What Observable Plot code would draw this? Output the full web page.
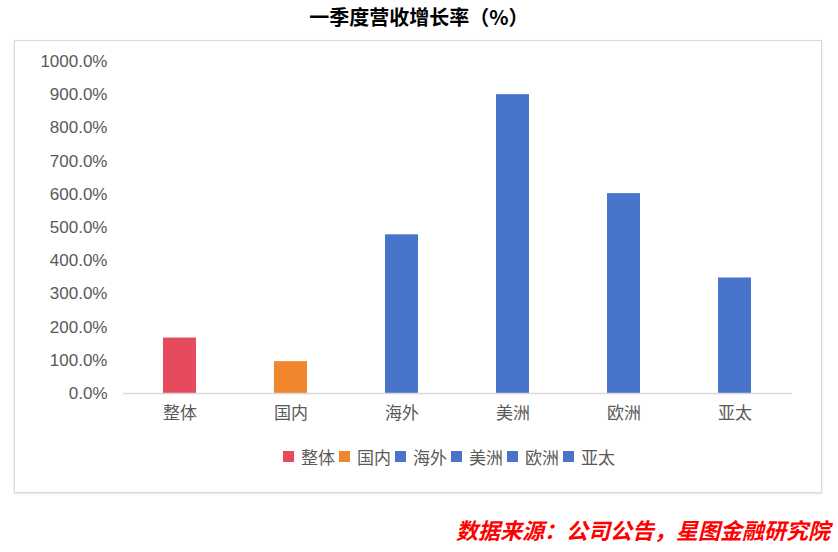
<!DOCTYPE html>
<html>
<head>
<meta charset="utf-8">
<script src="https://cdn.jsdelivr.net/npm/d3@7"></script>
<script src="https://cdn.jsdelivr.net/npm/@observablehq/plot@0.6"></script>
<style>
  body { margin: 0; background: #fff; font-family: "Noto Sans CJK SC", "Noto Sans", sans-serif; }
  #wrap { position: relative; width: 838px; height: 552px; }
  #title { position: absolute; top: 2px; left: 0; width: 838px; text-align: center; font-size: 20px; font-weight: bold; color: #000; }
  #box { position: absolute; left: 14px; top: 40px; width: 806px; height: 451px; border: 1px solid #d9d9d9; box-shadow: 0 1px 2px #e0e0e0; }
  #legend { position: absolute; left: 268px; top: 403px; display: flex; align-items: center; font-size: 17px; color: #595959; white-space: nowrap; }
  .sw { display: inline-block; width: 11px; height: 11px; margin-right: 7px; }
  .it { display: flex; align-items: center; margin-right: 4px; }
  #caption { position: absolute; right: 8px; top: 513px; font-size: 22px; font-weight: bold; font-style: italic; color: #f00; }
</style>
</head>
<body>
<div id="wrap">
  <div id="title">一季度营收增长率（%）</div>
  <div id="box"><div id="chart"></div><div id="legend"></div></div>
  <div id="caption">数据来源：公司公告，星图金融研究院</div>
</div>
<script>
const categories = ["整体", "国内", "海外", "美洲", "欧洲", "亚太"];
const growth = [167, 96, 478, 900, 602, 348];
const colors = ["#E64B5D", "#F0872F", "#4874CB", "#4874CB", "#4874CB", "#4874CB"];
const yTicks = [0, 100, 200, 300, 400, 500, 600, 700, 800, 900, 1000];

const data = categories.map((c, i) => ({cat: c, value: growth[i], color: colors[i]}));

const chart = Plot.plot({
  width: 806,
  height: 385,
  marginLeft: 108,
  marginRight: 29,
  marginTop: 20,
  marginBottom: 33,
  style: {fontFamily: '"Noto Sans CJK SC", "Noto Sans", sans-serif', color: "#595959", background: "transparent"},
  x: {domain: categories, paddingInner: 0.7, paddingOuter: 0.35, label: null},
  y: {domain: [0, 1000], label: null},
  marks: [
    Plot.barY(data, {x: "cat", y: "value", fill: "color"}),
    Plot.ruleY([0], {stroke: "#d9d9d9", strokeWidth: 1.5}),
    Plot.axisY({ticks: yTicks, tickSize: 0, tickPadding: 16, tickFormat: d => d.toFixed(1) + "%", fontSize: 17, fontFamily: '"Liberation Sans", Arial, sans-serif', fill: "#595959", label: null}),
    Plot.axisX({tickSize: 0, tickPadding: 13, fontSize: 17, fill: "#595959", label: null})
  ]
});
document.getElementById("chart").appendChild(chart);

const legend = document.getElementById("legend");
categories.forEach((c, i) => {
  const it = document.createElement("span");
  it.className = "it";
  it.innerHTML = `<span class="sw" style="background:${colors[i]}"></span><span>${c}</span>`;
  legend.appendChild(it);
});
</script>
</body>
</html>
